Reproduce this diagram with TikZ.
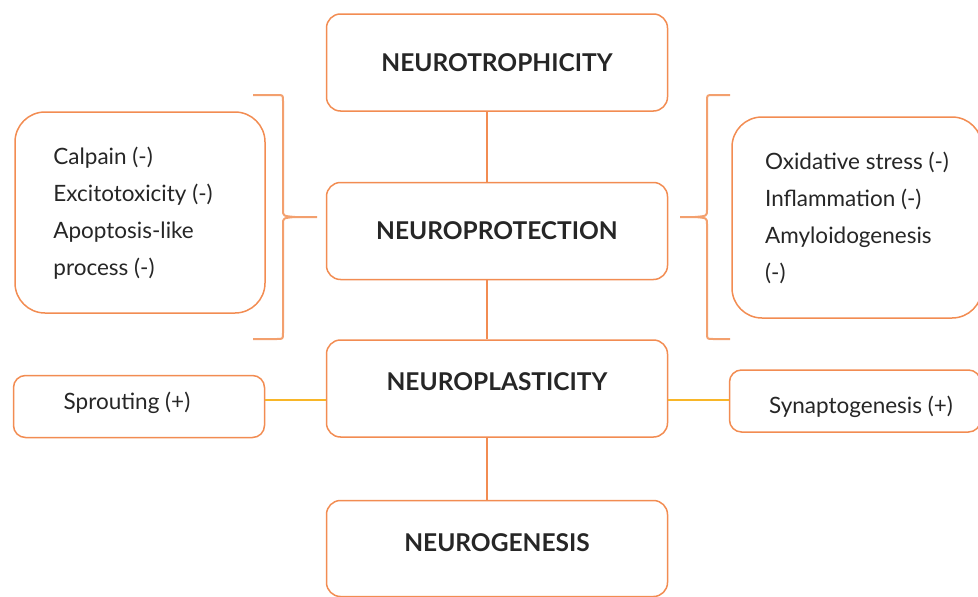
\documentclass[tikz,border=0pt]{standalone}
\usepackage{fontspec}
\setmainfont{Lato}
\definecolor{boxorange}{RGB}{242,140,82}
\definecolor{braceorange}{RGB}{243,160,110}
\definecolor{linkyellow}{RGB}{248,182,40}
\begin{document}
\begin{tikzpicture}[x=1pt,y=-1pt,
        mainbox/.style={draw=boxorange, line width=1.5pt, rounded corners=14pt, minimum width=341pt, minimum height=97pt, font=\fontsize{24.5}{28}\selectfont\bfseries, text=black!85},
        listbox/.style={draw=boxorange, line width=1.5pt, rounded corners=30pt, minimum width=250pt, minimum height=201pt, align=left, font=\fontsize{22.5}{37}\selectfont, text=black!85},
        sidebox/.style={draw=boxorange, line width=1.5pt, rounded corners=12pt, minimum width=251pt, minimum height=62pt, font=\fontsize{22.5}{26}\selectfont, text=black!85},
        link/.style={boxorange, line width=1.2pt},
        sidelink/.style={linkyellow, line width=2pt},
        brace/.style={braceorange, line width=2pt, line join=round}]
                \useasboundingbox (0,0) rectangle (978,597);
                \node[mainbox] (troph) at (497,62.5) {NEUROTROPHICITY};
                \node[mainbox] (protect) at (497,231) {NEUROPROTECTION};
                \node[mainbox] (plastic) at (497,388.5) {\raisebox{-2.3pt}[0pt][0pt]{NEUROPLASTICITY}};
                \node[mainbox, minimum height=96pt] (genesis) at (497,548.5) {\raisebox{-3.3pt}[0pt][0pt]{NEUROGENESIS}};
                \node[listbox] (leftlist) at (140,212.5) {\hspace*{-14pt}\begin{tabular}{@{}l@{}}Calpain (-)\\Excitotoxicity (-)\\Apoptosis-like\\process (-)\end{tabular}};
                \node[listbox] (rightlist) at (857,217.5) {Oxidative stress (-)\\Inflammation (-)\\Amyloidogenesis\\(-)};
                \node[sidebox] (sprout) at (139,406.5) {\hspace*{-24pt}\raisebox{-2.5pt}[0pt][0pt]{Sprouting (+)}};
                \node[sidebox] (synapse) at (855,401) {\hspace*{12pt}\raisebox{-12pt}[0pt][0pt]{Synaptogenesis (+)}};
                \coordinate (axis) at (487,0);
                \foreach \a/\b in {troph/protect,protect/plastic,plastic/genesis} \draw[link] (\a.south -| axis) -- (\b.north -| axis);
                \coordinate (mid) at (0,400);
                \draw[sidelink] (sprout.east |- mid) -- (plastic.west |- mid);
                \draw[sidelink] (plastic.east |- mid) -- (synapse.west |- mid);
                % braces
                \draw[brace] (253,95) -- (277,95) .. controls (283,95) .. (283,101) -- (283,210) .. controls (283,216) .. (295,217) -- (317,217);
                \draw[brace] (295,217) .. controls (283,218) .. (283,224) -- (283,333) .. controls (283,339) .. (277,339) -- (253,339);
                \draw[brace] (730,95) -- (713,95) .. controls (707,95) .. (707,101) -- (707,210) .. controls (707,216) .. (695,217) -- (680,217);
                \draw[brace] (695,217) .. controls (707,218) .. (707,224) -- (707,333) .. controls (707,339) .. (713,339) -- (730,339);
    \end{tikzpicture}
\end{document}
